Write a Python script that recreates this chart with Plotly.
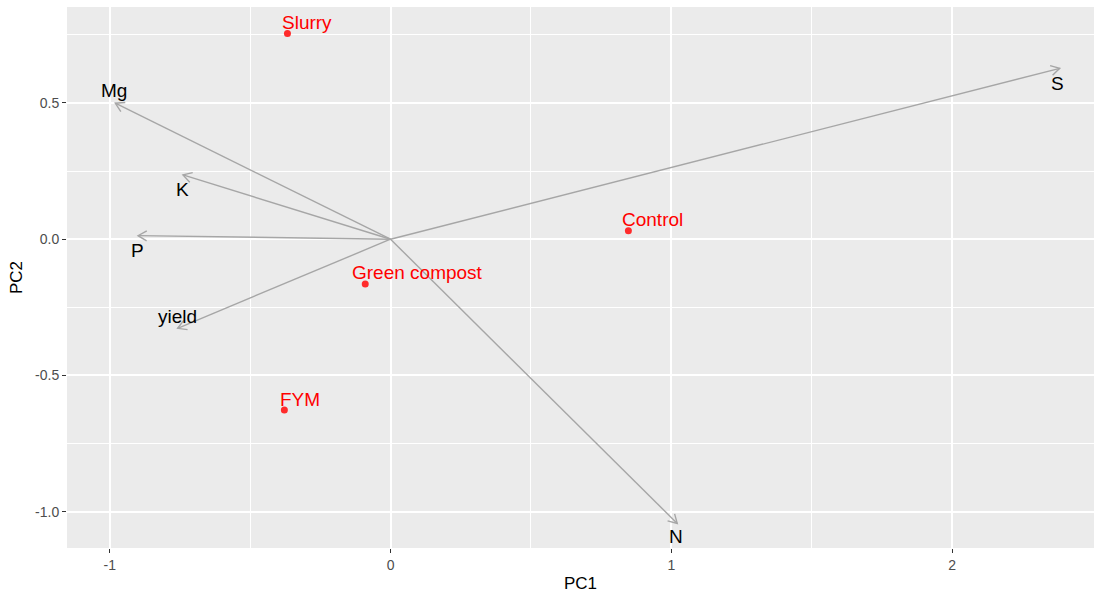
import math
import plotly.graph_objects as go

# ---- data ----
treatments = ["Slurry", "Control", "Green compost", "FYM"]
pc1_scores = [-0.367, 0.847, -0.090, -0.378]
pc2_scores = [0.755, 0.031, -0.164, -0.627]

variables = ["Mg", "K", "P", "yield", "N", "S"]
pc1_loadings = [-0.980, -0.739, -0.899, -0.758, 1.021, 2.383]
pc2_loadings = [0.499, 0.236, 0.013, -0.327, -1.043, 0.627]
label_pc1 = [-0.983, -0.740, -0.900, -0.760, 1.017, 2.376]
label_pc2 = [0.545, 0.182, -0.043, -0.284, -1.090, 0.571]

x_ticks = [-1, 0, 1, 2]
y_ticks = [-1.0, -0.5, 0.0, 0.5]
y_tick_text = ["-1.0", "-0.5", "0.0", "0.5"]

# ---- layout geometry ----
W, H = 1094, 595
ML, MR, MT, MB = 67, 0, 7, 47
XR = [-1.152, 2.505]
YR = [-1.133, 0.852]
sx = (W - ML - MR) / (XR[1] - XR[0])
sy = (H - MT - MB) / (YR[1] - YR[0])

FONT = "Liberation Sans, Arial, sans-serif"
LABEL_SIZE = 19
ARROW_COL = "#A6A6A6"

# approximate Arial advance widths (em) for hjust placement
_cw = {"S": .667, "l": .222, "u": .556, "r": .333, "y": .5, "C": .722, "o": .556,
       "n": .556, "t": .278, "G": .778, "e": .556, " ": .278, "c": .5, "m": .833,
       "p": .556, "s": .5, "F": .611, "Y": .667, "M": .833}


def text_width(s, size):
    return sum(_cw.get(ch, .556) for ch in s) * size


fig = go.Figure()

# arrow shafts
xs, ys = [], []
for x, y in zip(pc1_loadings, pc2_loadings):
    xs += [0, x, None]
    ys += [0, y, None]
fig.add_trace(go.Scatter(x=xs, y=ys, mode="lines",
                         line=dict(color=ARROW_COL, width=1.4),
                         hoverinfo="skip", showlegend=False))

# score points
fig.add_trace(go.Scatter(x=pc1_scores, y=pc2_scores, mode="markers",
                         marker=dict(color="#FF2B2B", size=7),
                         hoverinfo="skip", showlegend=False))

shapes = []
# open arrowheads drawn in pixel space at each loading tip
L = 10
ang = math.radians(30)
for x, y in zip(pc1_loadings, pc2_loadings):
    dx, dy = x * sx, y * sy
    n = math.hypot(dx, dy)
    ux, uy = dx / n, dy / n
    pts = []
    for s in (ang, -ang):
        rx = ux * math.cos(s) - uy * math.sin(s)
        ry = ux * math.sin(s) + uy * math.cos(s)
        pts.append((-L * rx, -L * ry))
    path = f"M {pts[0][0]:.2f},{pts[0][1]:.2f} L 0,0 L {pts[1][0]:.2f},{pts[1][1]:.2f}"
    shapes.append(dict(type="path", xref="x", yref="y", xsizemode="pixel",
                       ysizemode="pixel", xanchor=x, yanchor=y, path=path,
                       line=dict(color=ARROW_COL, width=1.4)))

annotations = []
for name, x, y in zip(treatments, pc1_scores, pc2_scores):
    w = text_width(name, LABEL_SIZE)
    annotations.append(dict(x=x, y=y, text=name, showarrow=False,
                            xanchor="left", yanchor="middle",
                            xshift=-0.1 * w - 2, yshift=11,
                            font=dict(family=FONT, size=LABEL_SIZE, color="#FF0000")))
for name, x, y in zip(variables, label_pc1, label_pc2):
    annotations.append(dict(x=x, y=y, text=name, showarrow=False,
                            xanchor="center", yanchor="middle",
                            font=dict(family=FONT, size=LABEL_SIZE, color="black")))

axis_common = dict(showgrid=True, gridcolor="white", gridwidth=1.5,
                   zeroline=False, showline=False, ticks="outside",
                   ticklen=4, tickwidth=1.2, tickcolor="#333333",
                   tickfont=dict(family=FONT, size=14, color="#4D4D4D"),
                   title_font=dict(family=FONT, size=17, color="black"))

fig.update_layout(
    width=W, height=H,
    margin=dict(l=ML, r=MR, t=MT, b=MB),
    paper_bgcolor="white", plot_bgcolor="#EBEBEB",
    shapes=shapes, annotations=annotations,
    xaxis=dict(range=XR, tickvals=x_ticks, ticktext=[str(v) for v in x_ticks],
               title=dict(text="PC1", standoff=5),
               minor=dict(tickvals=[-0.5, 0.5, 1.5], showgrid=True,
                          gridcolor="white", gridwidth=0.6, ticks=""),
               **axis_common),
    yaxis=dict(range=YR, tickvals=y_ticks, ticktext=y_tick_text,
               title=dict(text="PC2", standoff=8),
               minor=dict(tickvals=[-0.75, -0.25, 0.25, 0.75], showgrid=True,
                          gridcolor="white", gridwidth=0.6, ticks=""),
               **axis_common),
)

fig.write_html("out.html")
